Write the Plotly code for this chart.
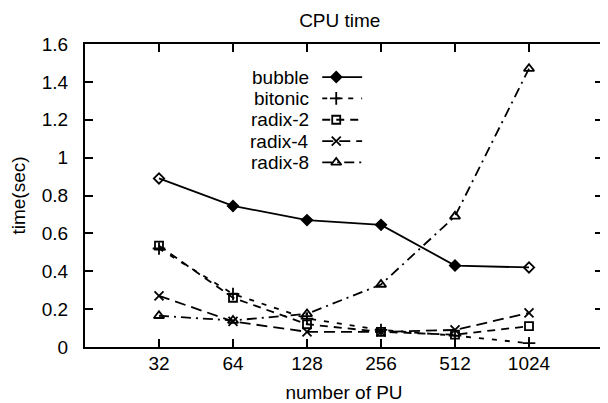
import plotly.graph_objects as go

pu_labels = ["32", "64", "128", "256", "512", "1024"]
bubble = [0.89, 0.745, 0.67, 0.645, 0.43, 0.42]
bitonic = [0.52, 0.28, 0.15, 0.09, 0.06, 0.02]
radix2 = [0.535, 0.26, 0.12, 0.08, 0.065, 0.11]
radix4 = [0.27, 0.135, 0.08, 0.08, 0.09, 0.18]
radix8 = [0.165, 0.14, 0.175, 0.33, 0.69, 1.47]

series_names = ["bubble", "bitonic", "radix-2", "radix-4", "radix-8"]
series_vals = [bubble, bitonic, radix2, radix4, radix8]

xidx = list(range(len(pu_labels)))
FONT = "Liberation Sans, Arial, sans-serif"
FS = 19

styles = {
    "bubble": dict(dash="solid", symbol=["diamond-open", "diamond", "diamond", "diamond", "diamond", "diamond-open"], size=8),
    "bitonic": dict(dash="5px,8px", symbol="cross-thin-open", size=9),
    "radix-2": dict(dash="8px,6px", symbol="square-open", size=8),
    "radix-4": dict(dash="11px,6px", symbol="x-thin-open", size=9),
    "radix-8": dict(dash="10px,5px,2px,5px", symbol="triangle-up-open", size=9),
}

fig = go.Figure()
for name, vals in zip(series_names, series_vals):
    st = styles[name]
    fig.add_trace(go.Scatter(
        x=xidx, y=vals, mode="lines+markers", name=name, showlegend=False,
        line=dict(color="black", width=1.8, dash=st["dash"]),
        marker=dict(symbol=st["symbol"], size=st["size"], color="black",
                    line=dict(color="black", width=1.8)),
    ))

# custom legend (text on left, sample on right), positioned in plot-fraction coordinates
lx_text = 0.437
lx0, lx1, lxm = 0.458, 0.535, 0.485
ly0, ldy = 0.891, 0.0705
for i, name in enumerate(series_names):
    st = styles[name]
    yy = ly0 - i * ldy
    fig.add_annotation(x=lx_text, y=yy, xref="paper", yref="paper", text=name,
                       showarrow=False, xanchor="right", yanchor="middle",
                       font=dict(family=FONT, size=FS, color="black"))
    fig.add_shape(type="line", xref="paper", yref="paper", x0=lx0, x1=lx1, y0=yy, y1=yy,
                  line=dict(color="black", width=1.8, dash=st["dash"]))
    sym = st["symbol"] if isinstance(st["symbol"], str) else "diamond"
    fig.add_trace(go.Scatter(x=[lxm], y=[yy], xaxis="x2", yaxis="y2", mode="markers",
                             showlegend=False, hoverinfo="skip",
                             marker=dict(symbol=sym, size=st["size"], color="black",
                                         line=dict(color="black", width=1.8))))

# page body has an 8px margin, so the figure is sized to fit the 608x403 window
fig.update_layout(
    width=600, height=395,
    margin=dict(l=77, r=3, t=36, b=56),
    paper_bgcolor="white", plot_bgcolor="white",
    font=dict(family=FONT, size=FS, color="black"),
    title=dict(text="CPU time", x=0.553, xref="container", y=0.970, yref="container",
               xanchor="center", yanchor="middle", font=dict(family=FONT, size=FS)),
    xaxis=dict(range=[-1, 6], tickvals=xidx, ticktext=pu_labels, ticks="inside",
               ticklen=8, tickwidth=1.5, tickcolor="black", showgrid=False, zeroline=False,
               showline=True, linecolor="black", linewidth=2, mirror="ticks",
               ticklabelstandoff=-2,
               title=dict(text="number of PU", standoff=13, font=dict(size=FS)),
               tickfont=dict(size=FS)),
    yaxis=dict(range=[0, 1.6], dtick=0.2, tickformat="~g", ticks="inside",
               ticklen=8, tickwidth=1.5, tickcolor="black", showgrid=False, zeroline=False,
               showline=True, linecolor="black", linewidth=2, mirror="ticks",
               ticklabelstandoff=11,
               title=dict(text="time(sec)", standoff=12, font=dict(size=FS)),
               tickfont=dict(size=FS)),
    xaxis2=dict(range=[0, 1], overlaying="x", visible=False),
    yaxis2=dict(range=[0, 1], overlaying="y", visible=False),
)

fig.write_html("out.html")
